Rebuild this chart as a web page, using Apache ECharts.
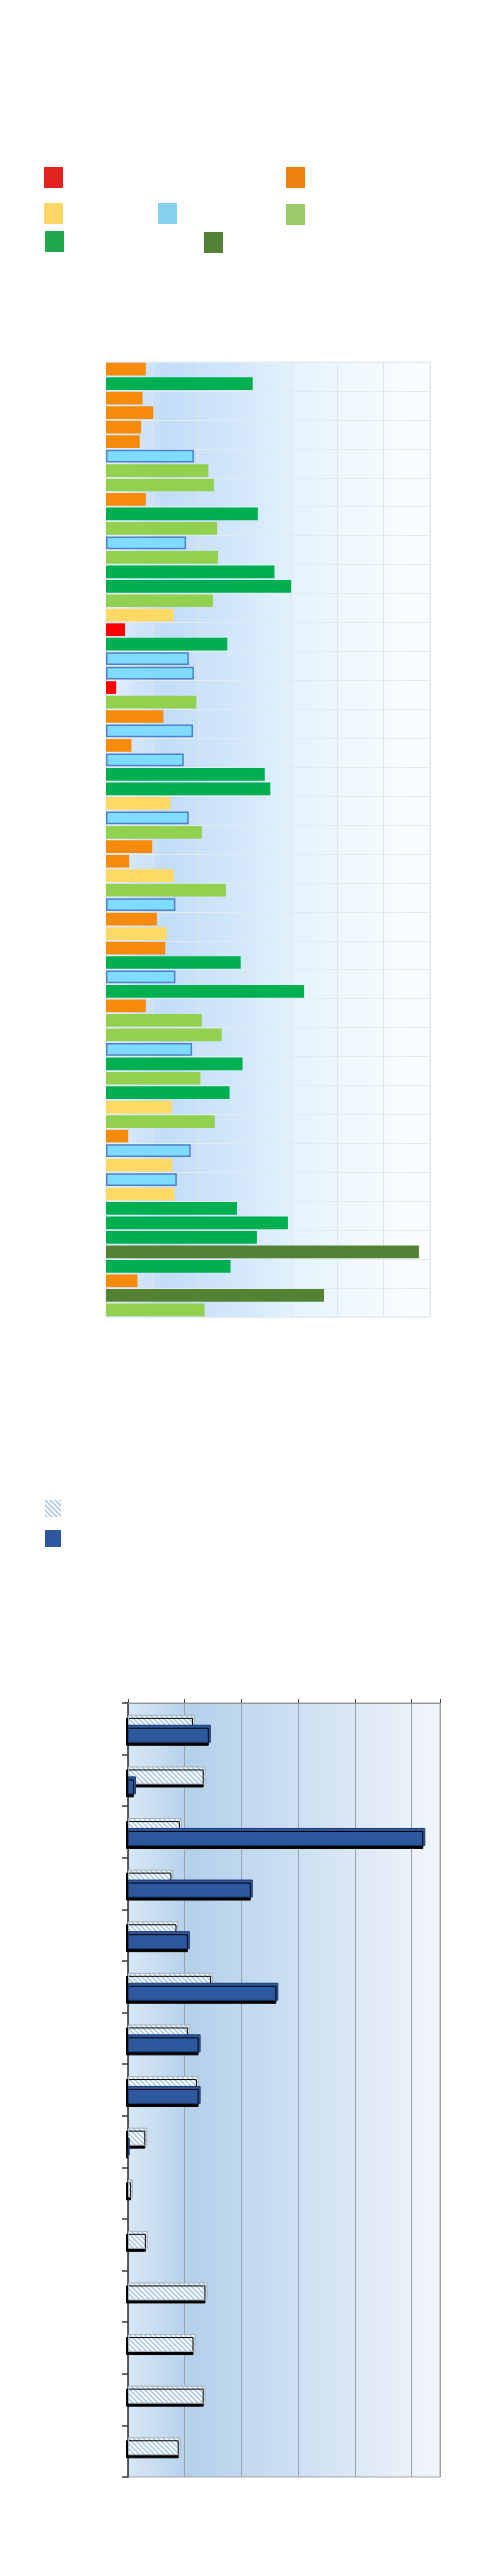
<!DOCTYPE html>
<html>
<head>
<meta charset="utf-8">
<style>
  html, body { margin: 0; padding: 0; background: #ffffff; }
  #main { width: 504px; height: 2560px; }
</style>
<script src="https://cdn.jsdelivr.net/npm/echarts@6/dist/echarts.min.js"></script>
</head>
<body>
<div id="main"></div>
<script>
// ---- top chart data: 66 bars, each tied to one of 7 groups ----
const topGroups = ['Group 1', 'Group 2', 'Group 3', 'Group 4', 'Group 5', 'Group 6', 'Group 7'];
const topBarColors = ['#ff0000', '#f58a0b', '#ffd966', '#80dcff', '#92d050', '#00b050', '#548235'];
const topLegendColors = ['#e2231e', '#ee8211', '#fdd666', '#87cfef', '#9bc96b', '#21a84e', '#548235'];
// group index per bar, top to bottom
const topBarGroup = [
  1, 5, 1, 1, 1, 1, 3, 4, 4, 1, 5, 4, 3, 4, 5, 5, 4, 2, 0, 5, 3, 3,
  0, 4, 1, 3, 1, 3, 5, 5, 2, 3, 4, 1, 1, 2, 4, 3, 1, 2, 1, 5, 3, 5,
  1, 4, 4, 3, 5, 4, 5, 2, 4, 1, 3, 2, 3, 2, 5, 5, 5, 6, 5, 1, 6, 4
];
const topBarValue = [
  0.86, 3.17, 0.79, 1.02, 0.76, 0.73, 1.90, 2.21, 2.33, 0.86, 3.28, 2.40, 1.73, 2.42, 3.64, 4.00, 2.31, 1.46, 0.41, 2.62, 1.79, 1.90,
  0.22, 1.95, 1.24, 1.88, 0.55, 1.68, 3.43, 3.55, 1.39, 1.79, 2.07, 1.00, 0.50, 1.46, 2.59, 1.50, 1.10, 1.31, 1.28, 2.91, 1.50, 4.28,
  0.86, 2.07, 2.50, 1.86, 2.95, 2.04, 2.67, 1.42, 2.35, 0.48, 1.83, 1.43, 1.53, 1.48, 2.83, 3.93, 3.26, 6.76, 2.69, 0.68, 4.71, 2.13
];
const topCategories = topBarValue.map((v, i) => 'Item ' + (i + 1));

// ---- bottom chart data: 15 categories, two series ('-' = no bar) ----
const bottomCategories = ['C1', 'C2', 'C3', 'C4', 'C5', 'C6', 'C7', 'C8', 'C9', 'C10', 'C11', 'C12', 'C13', 'C14', 'C15'];
const bottomSeriesNames = ['Series A', 'Series B'];
const seriesA = [1.18, 1.37, 0.95, 0.80, 0.89, 1.50, 1.09, 1.25, 0.34, 0.09, 0.35, 1.40, 1.19, 1.37, 0.93];
const seriesB = [1.46, 0.14, 5.24, 2.20, 1.09, 2.65, 1.28, 1.28, 0.03, '-', '-', '-', '-', '-', '-'];

// diagonal "\" hatch tile used as a fill pattern
function makeHatch() {
  const c = document.createElement('canvas');
  c.width = 5; c.height = 5;
  const g = c.getContext('2d');
  g.fillStyle = '#f6f9fc';
  g.fillRect(0, 0, 5, 5);
  g.strokeStyle = '#a4c4e0';
  g.lineWidth = 1.3;
  g.beginPath();
  g.moveTo(-1, -1); g.lineTo(6, 6);
  g.moveTo(-1, 4); g.lineTo(1, 6);
  g.moveTo(4, -1); g.lineTo(6, 1);
  g.stroke();
  return { image: c, repeat: 'repeat' };
}
const hatchFill = makeHatch();

const chart = echarts.init(document.getElementById('main'));

// one series per group, stacked so each bar fills its slot
const topSeries = topGroups.map((name, g) => ({
  name: name,
  type: 'bar',
  stack: 'top',
  xAxisIndex: 0,
  yAxisIndex: 0,
  barCategoryGap: '12%',
  itemStyle: g === 3
    ? { color: topBarColors[g], borderColor: '#4f82c4', borderWidth: 1.5 }
    : { color: topBarColors[g] },
  data: topBarValue.map((v, i) => (topBarGroup[i] === g ? v : '-'))
}));

// legend boxes placed like the reference
const topLegendPos = [[44, 167], [286, 167], [44, 203], [158, 203], [286, 204], [45, 231], [204, 232]];
const topLegends = topGroups.map((name, g) => ({
  data: [{ name: name, itemStyle: { color: topLegendColors[g], borderWidth: 0 } }],
  left: topLegendPos[g][0],
  top: topLegendPos[g][1],
  padding: 0,
  itemWidth: 19,
  itemHeight: 21,
  icon: 'rect',
  formatter: () => '',
  selectedMode: false
}));

const noShadow = { borderWidth: 0, shadowColor: 'rgba(0,0,0,0)', shadowOffsetX: 0, shadowOffsetY: 0 };
const bottomLegends = [
  {
    data: [{ name: bottomSeriesNames[0], itemStyle: Object.assign({ color: hatchFill }, noShadow) }],
    left: 45, top: 1500, padding: 0, itemWidth: 16, itemHeight: 17, icon: 'rect', formatter: () => '', selectedMode: false
  },
  {
    data: [{ name: bottomSeriesNames[1], itemStyle: Object.assign({ color: '#2d589e' }, noShadow) }],
    left: 45, top: 1530, padding: 0, itemWidth: 16, itemHeight: 17, icon: 'rect', formatter: () => '', selectedMode: false
  }
];

const option = {
  backgroundColor: '#ffffff',
  animation: false,
  legend: topLegends.concat(bottomLegends),
  grid: [
    {
      left: 106, right: 74, top: 362, height: 955,
      show: true,
      borderColor: '#e4eaf0',
      borderWidth: 1,
      backgroundColor: new echarts.graphic.LinearGradient(0, 0, 1, 0, [
        { offset: 0, color: '#e3f0fc' },
        { offset: 0.18, color: '#c3ddf7' },
        { offset: 0.42, color: '#d3e8fa' },
        { offset: 0.6, color: '#e6f4fd' },
        { offset: 0.8, color: '#f1f9fe' },
        { offset: 1, color: '#fcfeff' }
      ])
    },
    {
      left: 128, right: 64, top: 1703, height: 774,
      show: true,
      borderColor: '#a2a6aa',
      borderWidth: 1,
      backgroundColor: new echarts.graphic.LinearGradient(0, 0, 1, 0, [
        { offset: 0, color: '#d8e8f5' },
        { offset: 0.2, color: '#b4d0ea' },
        { offset: 0.45, color: '#c6dcf0' },
        { offset: 0.75, color: '#dde9f5' },
        { offset: 1, color: '#f3f7fc' }
      ])
    }
  ],
  xAxis: [
    {
      gridIndex: 0,
      type: 'value',
      min: 0, max: 7, interval: 1,
      axisLine: { show: false },
      axisTick: { show: false },
      axisLabel: { show: false },
      splitLine: { show: true, lineStyle: { color: '#dbe6ef', width: 1 } }
    },
    {
      gridIndex: 1,
      type: 'value',
      position: 'top',
      min: 0, max: 5.5, interval: 1,
      axisLine: { show: true, lineStyle: { color: '#8e9296' } },
      axisTick: { show: true, length: 4, lineStyle: { color: '#444' } },
      axisLabel: { show: false },
      splitLine: { show: true, lineStyle: { color: '#98a3ae', width: 1 } }
    }
  ],
  yAxis: [
    {
      gridIndex: 0,
      type: 'category',
      inverse: true,
      data: topCategories,
      axisLine: { show: false },
      axisTick: { show: false },
      axisLabel: { show: false },
      splitLine: { show: true, interval: 1, lineStyle: { color: '#e3ebf2', width: 1 } }
    },
    {
      gridIndex: 1,
      type: 'category',
      inverse: true,
      data: bottomCategories,
      axisLine: { show: true, lineStyle: { color: '#3a3a3a', width: 1.5 } },
      axisTick: { show: true, length: 6, interval: 0, lineStyle: { color: '#3a3a3a', width: 1.5 } },
      axisLabel: { show: false },
      splitLine: { show: false }
    }
  ],
  series: topSeries.concat([
    {
      name: bottomSeriesNames[0],
      type: 'bar',
      xAxisIndex: 1,
      yAxisIndex: 1,
      barWidth: 18,
      barGap: '-45%',
      itemStyle: {
        color: hatchFill,
        borderColor: '#a9b3bd',
        borderWidth: 1,
        shadowColor: '#000000',
        shadowOffsetX: -2,
        shadowOffsetY: 3,
        shadowBlur: 0
      },
      data: seriesA
    },
    {
      name: bottomSeriesNames[1],
      type: 'bar',
      xAxisIndex: 1,
      yAxisIndex: 1,
      barWidth: 18,
      barGap: '-45%',
      itemStyle: {
        color: '#2d589e',
        borderColor: '#1b3970',
        borderWidth: 1,
        shadowColor: '#000000',
        shadowOffsetX: -2,
        shadowOffsetY: 3,
        shadowBlur: 0
      },
      data: seriesB
    }
  ])
};

chart.setOption(option);
</script>
</body>
</html>
